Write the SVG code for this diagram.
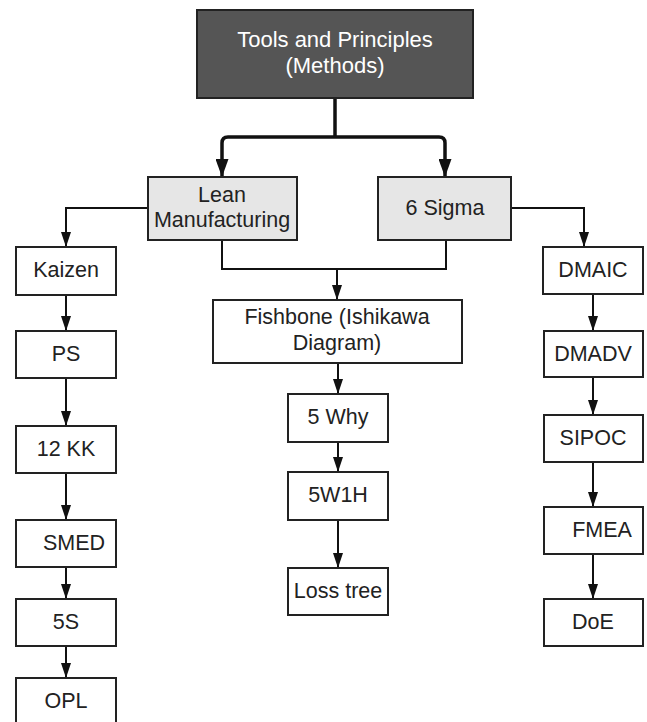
<svg xmlns="http://www.w3.org/2000/svg" width="647" height="722" viewBox="0 0 647 722">
<style>
.box{fill:#fff;stroke:#222;stroke-width:2}
.gray{fill:#e6e6e6;stroke:#222;stroke-width:2}
.dark{fill:#555;stroke:#222;stroke-width:2}
text{font-family:"Liberation Sans",Arial,sans-serif;font-size:21.5px;fill:#222;text-anchor:middle}
.w{fill:#fff;font-size:22px}
.c{fill:none;stroke:#111;stroke-width:2}
.ct{fill:none;stroke:#111;stroke-width:3.5}
</style>
<defs>
<marker id="a" viewBox="0 0 15 10" refX="15" refY="5" markerWidth="15" markerHeight="10" markerUnits="userSpaceOnUse" orient="auto"><path d="M0,0 L15,5 L0,10 z" fill="#111"/></marker>
<marker id="at" viewBox="0 0 18 13" refX="18" refY="6.5" markerWidth="18" markerHeight="13" markerUnits="userSpaceOnUse" orient="auto"><path d="M0,0 L18,6.5 L0,13 z" fill="#111"/></marker>
</defs>
<g id="connectors">
<path class="ct" d="M335,98 V137" />
<path class="ct" d="M335,137 H228 Q222,137 222,143 V177" marker-end="url(#at)"/>
<path class="ct" d="M335,137 H439 Q445,137 445,143 V177" marker-end="url(#at)"/>
<path class="c" d="M148,208 H66 V247" marker-end="url(#a)"/>
<path class="c" d="M511,208 H584 V247" marker-end="url(#a)"/>
<path class="c" d="M222,240 V269 H446 V240"/>
<path class="c" d="M337,269 V300" marker-end="url(#a)"/>
<path class="c" d="M66,295 V331" marker-end="url(#a)"/>
<path class="c" d="M66,378 V426" marker-end="url(#a)"/>
<path class="c" d="M66,473 V520" marker-end="url(#a)"/>
<path class="c" d="M66,567 V599" marker-end="url(#a)"/>
<path class="c" d="M66,646 V678" marker-end="url(#a)"/>
<path class="c" d="M338,363 V394" marker-end="url(#a)"/>
<path class="c" d="M338,442 V472" marker-end="url(#a)"/>
<path class="c" d="M338,520 V568" marker-end="url(#a)"/>
<path class="c" d="M593,294 V331" marker-end="url(#a)"/>
<path class="c" d="M593,377 V415" marker-end="url(#a)"/>
<path class="c" d="M593,462 V507" marker-end="url(#a)"/>
<path class="c" d="M593,554 V599" marker-end="url(#a)"/>
</g>
<g id="top"><rect class="dark" x="197" y="10" width="276" height="88"/><text class="w" x="335" y="47">Tools and Principles</text><text class="w" x="335" y="73">(Methods)</text></g>
<g id="lean"><rect class="gray" x="148" y="177" width="149" height="63"/><text x="222" y="202">Lean</text><text x="222" y="227">Manufacturing</text></g>
<g id="sigma"><rect class="gray" x="378" y="177" width="133" height="63"/><text x="445" y="215">6 Sigma</text></g>
<g id="fishbone"><rect class="box" x="213" y="300" width="249" height="63"/><text x="337" y="324">Fishbone (Ishikawa</text><text x="337" y="350">Diagram)</text></g>
<g id="kaizen"><rect class="box" x="16" y="247" width="100" height="48"/><text x="66" y="277">Kaizen</text></g>
<g id="ps"><rect class="box" x="16" y="331" width="100" height="47"/><text x="66" y="361">PS</text></g>
<g id="kk"><rect class="box" x="16" y="426" width="100" height="47"/><text x="66" y="456">12 KK</text></g>
<g id="smed"><rect class="box" x="16" y="520" width="100" height="47"/><text x="74" y="550">SMED</text></g>
<g id="s5"><rect class="box" x="16" y="599" width="100" height="47"/><text x="66" y="629">5S</text></g>
<g id="opl"><rect class="box" x="16" y="678" width="100" height="48"/><text x="66" y="708">OPL</text></g>
<g id="why"><rect class="box" x="288" y="394" width="100" height="48"/><text x="338" y="424">5 Why</text></g>
<g id="w1h"><rect class="box" x="288" y="472" width="100" height="48"/><text x="338" y="502">5W1H</text></g>
<g id="loss"><rect class="box" x="288" y="568" width="100" height="47"/><text x="338" y="598">Loss tree</text></g>
<g id="dmaic"><rect class="box" x="543" y="247" width="100" height="47"/><text x="593" y="277">DMAIC</text></g>
<g id="dmadv"><rect class="box" x="544" y="331" width="99" height="46"/><text x="593" y="361">DMADV</text></g>
<g id="sipoc"><rect class="box" x="544" y="415" width="99" height="47"/><text x="593" y="445">SIPOC</text></g>
<g id="fmea"><rect class="box" x="544" y="507" width="99" height="47"/><text x="602" y="537">FMEA</text></g>
<g id="doe"><rect class="box" x="544" y="599" width="99" height="47"/><text x="593" y="629">DoE</text></g>
</svg>
